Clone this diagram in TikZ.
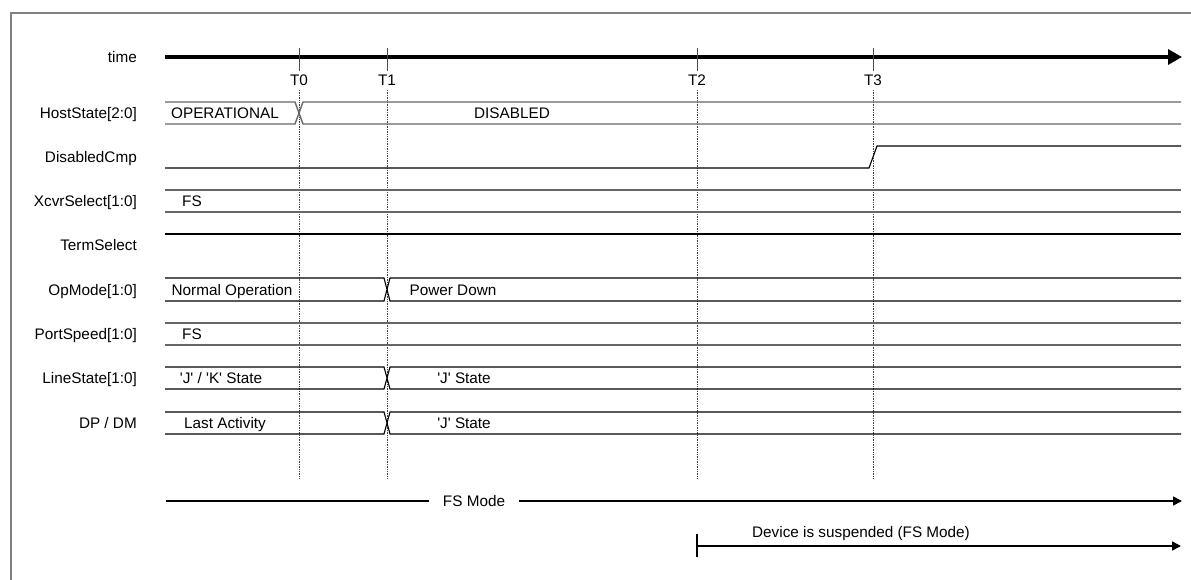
\documentclass[tikz,border=0pt]{standalone}
\usepackage{fontspec}
\setmainfont{Liberation Sans}
\usetikzlibrary{arrows.meta}
\begin{document}
\begin{tikzpicture}[x=1pt, y=-1pt, font=\fontsize{15.3}{18}\selectfont, txt/.style={inner sep=0pt, text height=10.9pt, text depth=0pt}, sig/.style={txt, anchor=east}, bus/.style={line width=1.4pt, draw=black!60}, wave/.style={line width=1.1pt}, tickline/.style={line width=1pt, draw=black!70}, guide/.style={densely dotted, line width=0.7pt, draw=black!75}, axis/.style={-{Triangle[length=14pt, width=15pt]}, line width=3.2pt}, span/.style={-{Triangle[length=9pt, width=9pt]}, line width=1.6pt}]
\useasboundingbox (0,0) rectangle (1191,580);
\draw[line width=2pt, draw=black!50] (11,580) -- (11,13) -- (1191,13);
\node[sig] (time) at (137,57) {time};
\draw[axis] (165,57) -- (1182,57);
\draw[tickline] (299,48) -- (299,71) (387,48) -- (387,71) (697,48) -- (697,71) (873,48) -- (873,71);
\node[txt] (t0) at (299,80) {T0};\node[txt] (t1) at (387,80) {T1};\node[txt] (t2) at (697,80) {T2};\node[txt] (t3) at (873,80) {T3};
\draw[guide] (299,90) -- (299,478) (387,90) -- (387,478) (697,90) -- (697,478) (873,90) -- (873,478);
\node[sig] (host) at (137,113) {HostState[2:0]};
\node[sig] (dcmp) at (137,157) {DisabledCmp};
\node[sig] (xcvr) at (137,201) {XcvrSelect[1:0]};
\node[sig] (term) at (137,245) {TermSelect};
\node[sig] (opmode) at (137,290) {OpMode[1:0]};
\node[sig] (pspeed) at (137,334) {PortSpeed[1:0]};
\node[sig] (lstate) at (137,378) {LineState[1:0]};
\node[sig] (dpdm) at (137,423) {DP / DM};
\draw[bus] (165,102) -- (295,102) -- (303,124) -- (1181,124) (165,124) -- (295,124) -- (303,102) -- (1181,102);
\draw[wave] (165,168) -- (869,168) -- (877,146) -- (1181,146);
\draw[bus] (165,190) -- (1181,190) (165,212) -- (1181,212);
\draw[wave] (165,234) -- (1181,234);
\draw[wave] (165,278) -- (384,278) -- (390,301) -- (1181,301) (165,301) -- (384,301) -- (390,278) -- (1181,278);
\draw[bus] (165,323) -- (1181,323) (165,345) -- (1181,345);
\draw[wave] (165,367) -- (384,367) -- (390,389) -- (1181,389) (165,389) -- (384,389) -- (390,367) -- (1181,367);
\draw[wave] (165,412) -- (384,412) -- (390,434) -- (1181,434) (165,434) -- (384,434) -- (390,412) -- (1181,412);
\node[txt] (oper) at (225,113) {OPERATIONAL};\node[txt] (disabled) at (512,113) {DISABLED};
\node[txt] (xfs) at (192,201) {FS};
\node[txt] (normal) at (232,290) {Normal Operation};\node[txt] (pdown) at (453,290) {Power Down};
\node[txt] (pfs) at (192,334) {FS};
\node[txt] (jk) at (221,378) {\textquotesingle J\textquotesingle{} / \textquotesingle K\textquotesingle{} State};\node[txt] (lj) at (464,378) {\textquotesingle J\textquotesingle{} State};
\node[txt] (last) at (225,423) {Last Activity};\node[txt] (dj) at (464,423) {\textquotesingle J\textquotesingle{} State};
\coordinate (fsstart) at (166,501);\coordinate (fsend) at (1182,501);
\node[txt, inner xsep=14pt] (fsmode) at (474,501) {FS Mode};
\draw[line width=1.6pt] (fsstart) -- (fsmode.west);\draw[span] (fsmode.east) -- (fsend);
\coordinate (suspstart) at (697,546);\coordinate (suspend) at (1181,546);
\node[txt] (susp) at (861,532) {Device is suspended (FS Mode)};
\draw[line width=1.2pt] (697,534) -- (697,557);
\draw[span] (suspstart) -- (suspend);
\end{tikzpicture}
\end{document}
